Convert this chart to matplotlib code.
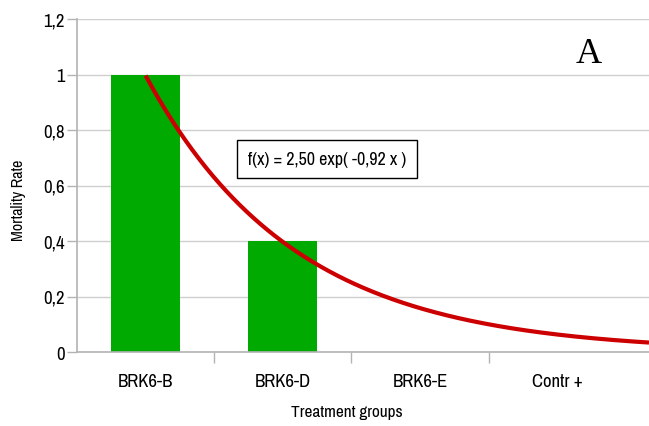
import numpy as np
import matplotlib
matplotlib.use("Agg")
import matplotlib.pyplot as plt
from matplotlib.ticker import FixedLocator, FuncFormatter

# Mortality rate per treatment group
groups = ["BRK6-B", "BRK6-D", "BRK6-E", "Contr +"]
mortality = [1.0, 0.4, 0.0, 0.0]

# Exponential fit: f(x) = a * exp(b * x)
fit_a = 2.50
fit_b = -0.92

yticks = [0, 0.2, 0.4, 0.6, 0.8, 1.0, 1.2]

narrow = ["Archivo Narrow", "PT Sans Narrow", "DejaVu Sans"]

fig = plt.figure(figsize=(6.49, 4.27), dpi=100)
ax = fig.add_axes([77 / 649, 1 - 353 / 427, 1 - 77 / 649, (353 - 20) / 427])

x = np.arange(1, len(groups) + 1)
ax.bar(x, mortality, width=0.5, color="#00aa00", zorder=2)

x_max = 4.67
xs = np.linspace(1, x_max, 300)
ax.plot(xs, fit_a * np.exp(fit_b * xs), color="#cc0000", lw=3.0, zorder=3,
        solid_capstyle="butt")

ax.set_xlim(0.5, x_max)
ax.set_ylim(0, 1.2)

ax.yaxis.set_major_locator(FixedLocator(yticks))
ax.yaxis.set_major_formatter(FuncFormatter(lambda v, p: f"{v:g}".replace(".", ",")))
ax.grid(axis="y", color="#cfcfcf", lw=1.0, zorder=0)

ax.set_xticks(x)
ax.set_xticklabels(groups)
ax.xaxis.set_minor_locator(FixedLocator([1.5, 2.5, 3.5]))
ax.tick_params(axis="x", which="major", length=0, pad=15)
ax.tick_params(axis="x", which="minor", length=8, color="#b3b3b3", width=1)
ax.tick_params(axis="y", length=7.5, color="#b3b3b3", width=1, pad=1.5)

for lab in ax.get_xticklabels() + ax.get_yticklabels():
    lab.set_family(narrow)
    lab.set_fontsize(13.5)

for s in ("top", "right"):
    ax.spines[s].set_visible(False)
for s in ("left", "bottom"):
    ax.spines[s].set_color("#b3b3b3")
    ax.spines[s].set_linewidth(1.2)
ax.spines["bottom"].set_zorder(4)

fig.text(19 / 649, 1 - 200 / 427, "Mortality Rate", rotation=90, ha="center",
         va="center", family=narrow, fontsize=11.5)
fig.text(347 / 649, 1 - 413 / 427, "Treatment groups", ha="center",
         va="center", family=narrow, fontsize=12.4)

fig.text(589 / 649, 1 - 63 / 427, "A", ha="center", va="baseline",
         family=["Liberation Serif", "DejaVu Serif"], fontsize=26)

fig.text(327 / 649, 1 - 160 / 427, "f(x) = 2,50 exp( -0,92 x )", ha="center",
         va="center", family=narrow, fontsize=13,
         bbox=dict(boxstyle="square,pad=0.6", fc="white", ec="black", lw=1))

fig.savefig("out.png", dpi=100)
